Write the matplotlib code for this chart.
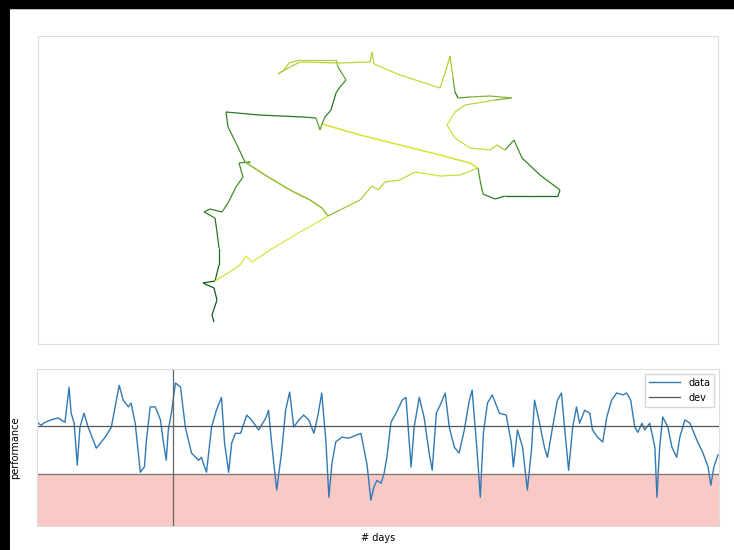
import numpy as np
import matplotlib
matplotlib.use("Agg")
import matplotlib.pyplot as plt
from matplotlib.collections import LineCollection
from matplotlib.colors import LinearSegmentedColormap
from matplotlib.patches import Rectangle

# ---- top panel: 2-D path, coloured per vertex ----
path_x = [-16.6, -16.8, -16.3, -16.6, -17.7, -16.5, -16.1, -16.1, -16.3, -16.5,
          -17.6, -17.0, -15.8, -15.2, -14.4, -13.7, -14.1, -13.0, -13.5, -11.5,
          -9.0, -7.0, -5.8, -5.2, -5.8, -7.0, -9.0, -11.5, -13.5, -14.4,
          -15.2, -15.4, -12.1, -7.7, -6.4, -6.0, -5.8, -2.0, 2.0, 6.0,
          9.0, 9.8, 9.0, 6.0, 2.0, -2.0, -5.8, -5.5, -4.9, -4.4,
          -4.0, -3.4, -4.2, -4.4, -8.0, -9.1, -9.6, -10.2, -9.0, -8.0,
          -4.0, -1.0, -0.8, -0.6, 2.0, 6.0, 6.6, 7.0, 7.3, 7.5,
          7.8, 9.0, 11.0, 13.2, 11.5, 8.5, 7.5, 6.7, 7.5, 9.0,
          11.0, 11.7, 12.5, 13.4, 14.2, 16.0, 18.0, 17.8, 15.0, 12.5,
          11.5, 10.3, 10.0, 9.8, 8.0, 6.0, 3.5, 2.0, 0.5, -0.2,
          -0.8, -2.0, -4.0, -5.2, -6.2, -8.0, -11.0, -12.2, -12.8, -13.4,
          -14.0, -15.2, -16.5]
path_y = [-13.2, -12.5, -11.0, -9.8, -9.3, -9.1, -7.5, -5.8, -4.2, -2.8,
          -2.2, -1.9, -2.2, -1.3, 0.3, 1.3, 2.7, 2.8, 2.8, 1.5,
          0.0, -1.0, -1.8, -2.6, -1.8, -1.0, 0.0, 1.5, 2.8, 4.7,
          6.3, 7.8, 7.5, 7.3, 7.2, 6.0, 6.6, 5.5, 4.5, 3.5,
          2.7, 2.2, 2.7, 3.5, 4.5, 5.5, 6.6, 7.3, 8.0, 9.7,
          10.3, 11.0, 12.3, 13.0, 13.0, 12.7, 12.0, 11.6, 12.3, 12.8,
          12.7, 12.8, 13.8, 12.6, 11.5, 10.2, 12.0, 13.4, 11.2, 9.8,
          9.2, 9.3, 9.4, 9.2, 9.0, 8.5, 7.8, 6.5, 5.2, 4.2,
          4.0, 4.5, 4.0, 5.0, 3.2, 1.5, 0.0, -0.6, -0.6, -0.6,
          -0.9, -0.4, 1.0, 2.2, 1.5, 1.4, 1.8, 1.0, 0.8, 0.0,
          0.4, -1.0, -2.0, -2.6, -3.2, -4.2, -6.0, -6.8, -7.2, -6.6,
          -7.5, -8.3, -9.1]
path_c = [1.0, 1.0, 1.0, 1.0, 1.0, 1.0, 0.95, 0.95, 0.9, 0.9,
          0.85, 0.85, 0.85, 0.8, 0.8, 0.8, 0.8, 0.8, 0.8, 0.55,
          0.55, 0.55, 0.55, 0.55, 0.55, 0.55, 0.55, 0.55, 0.55, 0.8,
          0.8, 0.85, 0.9, 0.9, 0.85, 0.7, 0.7, 0.25, 0.25, 0.25,
          0.25, 0.25, 0.25, 0.25, 0.25, 0.25, 0.25, 0.8, 0.85, 0.9,
          0.85, 0.8, 0.7, 0.6, 0.45, 0.45, 0.45, 0.45, 0.45, 0.45,
          0.4, 0.4, 0.45, 0.4, 0.35, 0.35, 0.4, 0.45, 0.5, 0.7,
          0.9, 0.7, 0.6, 0.6, 0.6, 0.4, 0.35, 0.3, 0.3, 0.3,
          0.35, 0.4, 0.5, 0.75, 0.8, 0.85, 0.85, 0.9, 0.95, 0.95,
          0.9, 0.85, 0.8, 0.75, 0.35, 0.3, 0.3, 0.35, 0.4, 0.4,
          0.4, 0.45, 0.5, 0.6, 0.3, 0.2, 0.2, 0.25, 0.2, 0.2,
          0.2, 0.25, 0.3]

# ---- bottom panel: daily performance ----
days = [0, 1.2, 2.4, 4.1, 6.2, 8.2, 9.4, 10.0, 10.9, 11.8,
        12.6, 13.8, 15.0, 17.4, 20.0, 21.8, 24.1, 25.3, 26.8, 27.6,
        28.8, 30.3, 31.5, 32.1, 33.2, 34.7, 36.2, 37.1, 37.9, 38.5,
        39.4, 40.6, 42.1, 43.5, 45.3, 47.4, 48.2, 49.7, 51.2, 52.6,
        54.1, 55.0, 56.2, 57.1, 58.2, 59.7, 61.5, 62.9, 65.0, 67.1,
        67.9, 68.8, 70.3, 71.8, 72.9, 74.1, 75.3, 76.8, 78.2, 79.7,
        81.2, 82.4, 83.5, 84.7, 85.6, 86.5, 87.6, 89.4, 91.5, 93.5,
        95.0, 96.8, 97.9, 98.8, 99.7, 100.9, 101.8, 102.6, 103.8, 105.3,
        107.1, 108.2, 109.7, 110.6, 112.1, 113.5, 115.0, 115.9, 117.1, 118.5,
        119.7, 120.9, 122.4, 123.8, 125.3, 126.8, 127.6, 129.1, 130.0, 130.9,
        132.1, 133.5, 135.6, 137.6, 139.1, 139.7, 140.9, 142.4, 143.8, 145.0,
        145.9, 147.4, 148.8, 149.7, 151.2, 152.6, 153.8, 154.7, 155.9, 157.1,
        158.2, 159.1, 160.6, 162.1, 162.9, 164.4, 165.9, 167.1, 168.5, 170.0,
        171.8, 172.9, 174.1, 175.3, 176.2, 177.4, 178.2, 179.7, 181.2, 181.8,
        182.6, 183.5, 185.0, 186.2, 187.6, 188.5, 190.0, 191.5, 193.5, 195.3,
        196.8, 197.6, 198.5, 199.7]
perf = [0.8, 0.2, 0.8, 1.3, 1.7, 0.8, 8.1, 2.7, 0.6, -8.1,
        -0.2, 2.7, -0.2, -4.6, -2.3, -0.2, 8.5, 5.4, 4.0, 4.8,
        0.6, -9.6, -8.5, -2.9, 4.0, 4.0, 1.3, -3.5, -7.1, -0.8,
        2.7, 9.0, 8.1, -0.2, -5.6, -7.1, -6.5, -9.6, -0.2, 3.3,
        6.0, -3.5, -9.6, -3.5, -1.5, -1.5, 2.3, 1.3, -0.8, 1.7,
        3.3, -3.5, -13.3, -5.0, 3.3, 7.1, -0.2, 1.3, 2.3, 1.3,
        -1.5, 2.3, 6.9, -2.9, -14.8, -7.7, -3.3, -2.3, -2.5, -1.9,
        -1.5, -8.1, -15.4, -12.7, -11.3, -11.9, -9.8, -6.5, 0.8, 2.7,
        5.4, 6.0, -8.5, -0.2, 6.0, 1.9, -5.6, -9.2, 2.7, 4.8,
        6.9, -0.2, -4.4, -5.6, -0.8, 5.4, 7.5, -5.6, -14.8, -1.5,
        4.8, 6.5, 2.7, 2.3, -3.5, -8.5, -0.8, -4.4, -13.3, -5.0,
        5.4, 0.6, -4.4, -6.5, -0.2, 5.4, 6.9, -0.2, -9.2, -0.2,
        4.0, 0.6, 3.3, 2.7, -0.8, -2.3, -3.3, 1.9, 5.4, 6.9,
        6.5, 6.9, 5.4, -0.2, -1.3, 0.6, -0.8, 0.6, -4.4, -14.8,
        -4.4, 1.9, -0.2, -4.4, -6.5, -2.3, 1.3, 0.6, -2.9, -5.6,
        -8.5, -12.3, -8.5, -6.0]
baseline = 0.0
threshold = -10.0
marker_day = 40
series_labels = ["data", "dev"]
xlabel = "# days"
ylabel = "performance"

fig = plt.figure(figsize=(7.34, 5.5), dpi=100)
fig.patch.set_facecolor("white")

# black frame strips (left and top)
fig.add_artist(Rectangle((0, 0), 10 / 734, 1, transform=fig.transFigure,
                         facecolor="black", edgecolor="none", zorder=10))
fig.add_artist(Rectangle((0, 1 - 9 / 550), 1, 9 / 550, transform=fig.transFigure,
                         facecolor="black", edgecolor="none", zorder=10))
fig.add_artist(Rectangle((10 / 734, 1 - 10 / 550), 1, 1 / 550, transform=fig.transFigure,
                         facecolor="#bbbbbb", edgecolor="none", zorder=9))

spine_col = "#dddddd"

# top axes
ax1 = fig.add_axes([38 / 734, 1 - 344 / 550, 680 / 734, 308 / 550])
cmap = LinearSegmentedColormap.from_list(
    "yg", ["#f2f26a", "#d8e33a", "#a8c93a", "#4e9a2e", "#0b5e1a"])
pts = np.column_stack([path_x, path_y])
segs = np.stack([pts[:-1], pts[1:]], axis=1)
lc = LineCollection(segs, cmap=cmap, linewidths=0.9)
lc.set_array(np.array(path_c[1:]))
lc.set_clim(0, 1)
ax1.add_collection(lc)
ax1.set_xlim(-34.2, 33.8)
ax1.set_ylim(-15.4, 15.4)
ax1.set_xticks([])
ax1.set_yticks([])
for s in ax1.spines.values():
    s.set_color(spine_col)

# bottom axes
ax2 = fig.add_axes([37 / 734, 1 - 526 / 550, 682 / 734, 157 / 550])
ax2.plot(days, perf, color="#2f7ab5", lw=1.0, label=series_labels[0])
ax2.axhline(baseline, color="#555555", lw=0.9, label=series_labels[1])
ax2.axhline(threshold, color="#777777", lw=0.9)
ax2.axvline(marker_day, color="#666666", lw=0.9)
ax2.set_xlim(days[0], 200)
ax2.set_ylim(-20.8, 11.9)
ax2.axhspan(-20.8, threshold, color="#f9c9c6", zorder=0)
ax2.set_xticks([])
ax2.set_yticks([])
for s in ax2.spines.values():
    s.set_color(spine_col)
ax2.set_xlabel(xlabel, fontsize=7, labelpad=5)
ax2.set_ylabel(ylabel, fontsize=7, labelpad=12)
leg = ax2.legend(loc="upper right", fontsize=7, handlelength=3.2,
                 frameon=True, fancybox=False, borderaxespad=0.5)
leg.get_frame().set_edgecolor("#cccccc")

fig.savefig("out.png", dpi=100)
